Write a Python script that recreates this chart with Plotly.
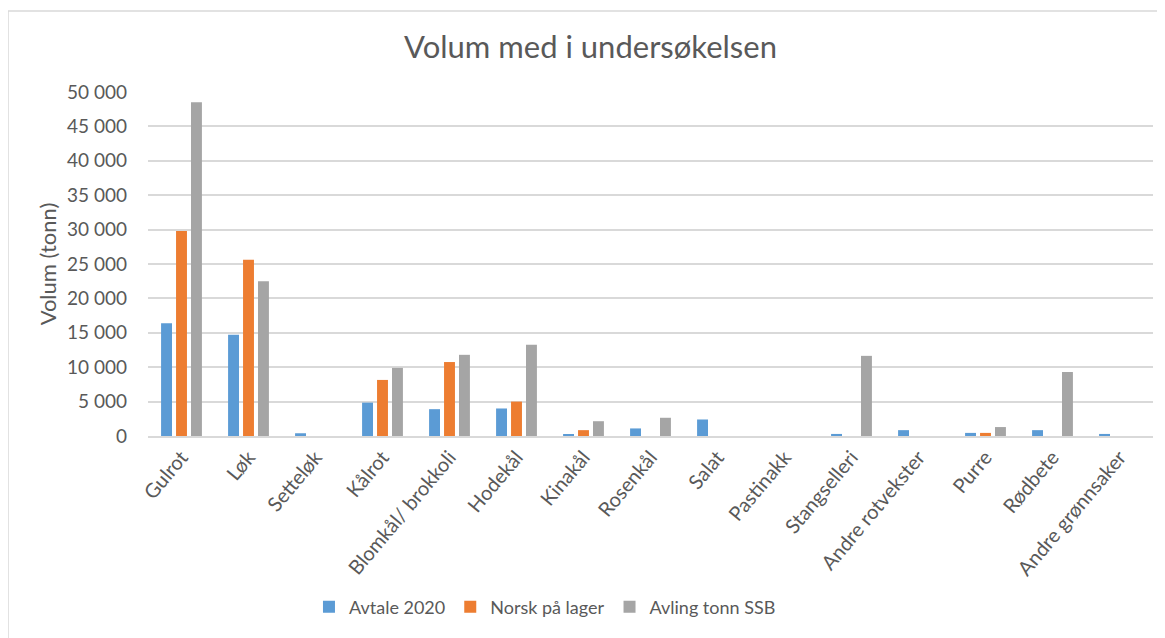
import plotly.graph_objects as go

# ── Data (tonn) ───────────────────────────────────────────────────────────────
categories = ['Gulrot', 'Løk', 'Setteløk', 'Kålrot', 'Blomkål/ brokkoli', 'Hodekål',
              'Kinakål', 'Rosenkål', 'Salat', 'Pastinakk', 'Stangselleri',
              'Andre rotvekster', 'Purre', 'Rødbete', 'Andre grønnsaker']

avtale_2020 = [16400, 14700, 400, 4850, 3900, 4000, 250, 1100, 2400, 0, 300, 850, 450, 850, 300]
norsk_lager = [29800, 25600, 0, 8150, 10750, 5000, 850, 0, 0, 0, 0, 0, 450, 0, 0]
avling_ssb  = [48500, 22500, 0, 9900, 11800, 13250, 2150, 2650, 0, 0, 11650, 0, 1300, 9300, 0]

SERIES = [
    ('Avtale 2020', avtale_2020, '#5B9BD5'),
    ('Norsk på lager', norsk_lager, '#ED7D31'),
    ('Avling tonn SSB', avling_ssb, '#A5A5A5'),
]

y_ticks = list(range(0, 50001, 5000))
y_tick_text = [f"{v:,}".replace(',', ' ') for v in y_ticks]

FONT = 'Lato'
TEXT = '#595959'
GRID = '#D9D9D9'

fig = go.Figure()
for name, vals, color in SERIES:
    fig.add_trace(go.Bar(
        x=categories, y=vals, name=name,
        marker=dict(color=color, line=dict(width=0)),
    ))

# outer chart frame (Excel chart area border)
fig.add_shape(type='rect', xref='paper', yref='paper',
              x0=-0.1393, x1=1.03, y0=-0.65, y1=1.2355,
              line=dict(color=GRID, width=1.5), layer='below')

# page body adds an 8px offset, margins compensate for it
fig.update_layout(
    width=1165, height=638,
    margin=dict(l=140, r=20, t=84, b=210),
    paper_bgcolor='white', plot_bgcolor='white',
    font=dict(family=FONT, size=19, color=TEXT),
    title=dict(text='Volum med i undersøkelsen', x=0.5, xanchor='center',
               y=0.939, yanchor='middle', font=dict(size=31, color=TEXT)),
    barmode='group', bargap=0.33, bargroupgap=0.27,
    xaxis=dict(tickangle=-50, showgrid=False, showline=True, linecolor=GRID,
               linewidth=1.5, ticks='', automargin=False,
               tickfont=dict(size=20, color=TEXT)),
    yaxis=dict(range=[0, 50000], tickvals=y_ticks, ticktext=y_tick_text,
               showgrid=True, gridcolor=GRID, gridwidth=1.5, zeroline=False,
               showline=False, ticks='', ticklabelstandoff=20, automargin=False,
               title=dict(text='Volum (tonn)', standoff=4, font=dict(size=22, color=TEXT)),
               tickfont=dict(size=19, color=TEXT)),
    legend=dict(orientation='h', x=0.395, xanchor='center', y=-0.497, yanchor='middle',
                font=dict(size=18, color=TEXT), itemwidth=30, traceorder='normal'),
    showlegend=True,
)

fig.write_html("out.html")
